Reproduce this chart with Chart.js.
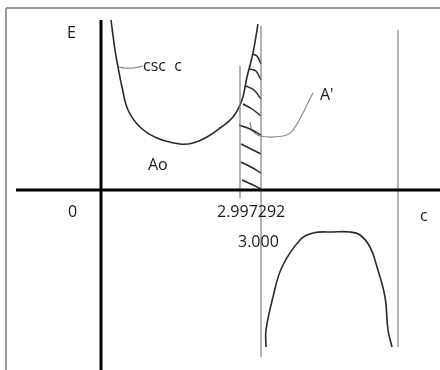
<!DOCTYPE html>
<html>
<head>
<meta charset="utf-8">
<script src="https://cdn.jsdelivr.net/npm/chart.js@4"></script>
<style>
  html, body { margin: 0; padding: 0; background: #fff; overflow: hidden; }
  #wrap { width: 440px; height: 370px; position: relative; }
</style>
</head>
<body>
<div id="wrap"><canvas id="sketch"></canvas></div>
<script>
// sketch coordinates: origin where the E and c axes cross, y up
const cscX = [10, 14, 17, 21, 27, 39, 56, 79, 92, 106, 119, 132, 141, 146, 152, 157];
const cscY = [170, 140, 123, 103, 80, 63, 52, 46, 47, 53, 62, 73, 90, 113, 137, 166];

const lowX = [165, 165, 172, 181, 199, 212, 232, 249, 259, 269, 276, 284, 287, 291];
const lowY = [-157, -140, -107, -77, -50, -43, -42, -42, -45, -57, -77, -107, -140, -157];

// thin vertical lines: x, top, bottom
const vLineX = [139, 160, 297];
const vLineTop = [124, 164, 160];
const vLineBottom = [-8, -167, -157];

// hatch strokes of the A' strip
const hatchX = [
  [151, 156, 160], [149, 155, 160], [145, 153, 160], [142, 151, 160],
  [138, 149, 160], [140, 150, 160], [140, 150, 160], [141, 150, 160]
];
const hatchY = [
  [136, 134, 126], [121, 119, 110], [104, 100, 91], [86, 81, 74],
  [65, 61, 55], [46, 41, 36], [28, 23, 17], [10, 6, 1]
];

const cscLeadX = [17, 24, 32, 42];
const cscLeadY = [123, 122, 122, 124];
const aLeadX = [149, 151, 159, 182, 192, 212];
const aLeadY = [68, 60, 54, 54, 60, 97];

const labelText = ['E', 'csc  c', 'Ao', "A'", '0', '2.997292', 'c', '3.000'];
const labelX = [-34, 42, 47, 219, -33, 116, 319, 137];
const labelY = [157, 124, 25, 95, -22, -22, -26, -52];

const pts = (xs, ys) => xs.map((x, i) => ({ x: x, y: ys[i] }));

const line = (data, color, width, tension) => ({
  data: data,
  showLine: true,
  borderColor: color,
  borderWidth: width,
  pointRadius: 0,
  tension: tension || 0,
  fill: false
});

const datasets = [];
// frame (top and left only)
datasets.push(line([{ x: -95, y: 182 }, { x: 360, y: 182 }], '#9a9a9a', 2));
datasets.push(line([{ x: -95, y: 182 }, { x: -95, y: -200 }], '#9a9a9a', 2));
// axes
datasets.push(line([{ x: -85, y: 0 }, { x: 360, y: 0 }], '#000', 3));
datasets.push(line([{ x: 0, y: 170 }, { x: 0, y: -200 }], '#000', 3));
// verticals
vLineX.forEach((x, i) => {
  datasets.push(line([{ x: x, y: vLineTop[i] }, { x: x, y: vLineBottom[i] }], '#808080', 1.2));
});
// curves
datasets.push(line(pts(cscX, cscY), '#2a2a2a', 1.6, 0.4));
datasets.push(line(pts(lowX, lowY), '#2a2a2a', 1.6, 0.4));
hatchX.forEach((xs, i) => {
  datasets.push(line(pts(xs, hatchY[i]), '#2a2a2a', 1.5, 0.3));
});
// leaders
datasets.push(line(pts(cscLeadX, cscLeadY), '#8a8a8a', 1.2, 0.4));
datasets.push(line(pts(aLeadX, aLeadY), '#8a8a8a', 1.2, 0.4));

const labelPlugin = {
  id: 'sketchLabels',
  afterDatasetsDraw(chart) {
    const c = chart.ctx;
    const xs = chart.scales.x, ys = chart.scales.y;
    c.save();
    c.font = '16px "Open Sans", sans-serif';
    c.fillStyle = '#1a1a1a';
    c.textAlign = 'left';
    c.textBaseline = 'middle';
    labelText.forEach((t, i) => {
      c.fillText(t, xs.getPixelForValue(labelX[i]), ys.getPixelForValue(labelY[i]));
    });
    c.restore();
  }
};

new Chart(document.getElementById('sketch').getContext('2d'), {
  type: 'scatter',
  data: { datasets: datasets },
  options: {
    responsive: true,
    maintainAspectRatio: false,
    animation: false,
    events: [],
    layout: { padding: 0 },
    plugins: { legend: { display: false }, tooltip: { enabled: false } },
    scales: {
      x: { type: 'linear', min: -101, max: 339, display: false },
      y: { type: 'linear', min: -180, max: 190, display: false }
    }
  },
  plugins: [labelPlugin]
});
</script>
</body>
</html>
